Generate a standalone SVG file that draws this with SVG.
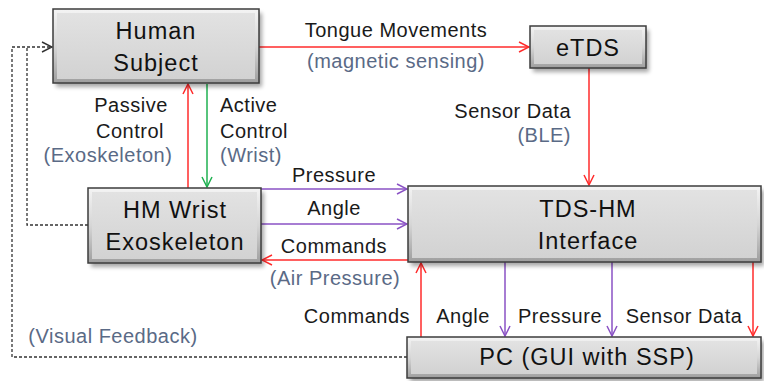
<svg xmlns="http://www.w3.org/2000/svg" width="764" height="381" viewBox="0 0 764 381">
<style>
  .box-shadow { fill: #000; opacity: 0.35; filter: url(#blur); }
  .box-outer { fill: url(#bevel); stroke: #3c3c3c; stroke-width: 1.5; }
  .box-inner { fill: url(#face); }
  .box-text { font-family: "Liberation Sans", Arial, sans-serif; font-size: 23.5px; letter-spacing: 1px; fill: #111; text-anchor: middle; }
  .lbl { font-family: "Liberation Sans", Arial, sans-serif; font-size: 20px; letter-spacing: 0.5px; fill: #1a1a1a; text-anchor: middle; }
  .start { text-anchor: start; }
  .end { text-anchor: end; }
  .sub { fill: #5a6a86; }
  .red { stroke: #ff2b2b; stroke-width: 1.5; fill: none; }
  .green { stroke: #1fb050; stroke-width: 1.5; fill: none; }
  .purple { stroke: #8a52c4; stroke-width: 1.5; fill: none; }
  .dash { stroke: #333; stroke-width: 1.3; stroke-dasharray: 3 2; fill: none; }
</style>
<defs>
  <linearGradient id="bevel" x1="0" y1="0" x2="0" y2="1">
    <stop offset="0" stop-color="#f4f4f4"/>
    <stop offset="0.5" stop-color="#d6d6d6"/>
    <stop offset="1" stop-color="#9e9e9e"/>
  </linearGradient>
  <linearGradient id="face" x1="0" y1="0" x2="0" y2="1">
    <stop offset="0" stop-color="#e2e2e2"/>
    <stop offset="1" stop-color="#d2d2d2"/>
  </linearGradient>
  <filter id="blur" x="-10%" y="-10%" width="120%" height="130%">
    <feGaussianBlur stdDeviation="2"/>
  </filter>
  <marker id="aR" viewBox="-11 -6 12 12" refX="0" refY="0" markerWidth="12" markerHeight="12" markerUnits="userSpaceOnUse" orient="auto">
    <path d="M-10,-5 L0,0 L-10,5" fill="none" stroke="#ff2b2b" stroke-width="1.5"/>
  </marker>
  <marker id="aG" viewBox="-11 -6 12 12" refX="0" refY="0" markerWidth="12" markerHeight="12" markerUnits="userSpaceOnUse" orient="auto">
    <path d="M-10,-5 L0,0 L-10,5" fill="none" stroke="#1fb050" stroke-width="1.5"/>
  </marker>
  <marker id="aP" viewBox="-11 -6 12 12" refX="0" refY="0" markerWidth="12" markerHeight="12" markerUnits="userSpaceOnUse" orient="auto">
    <path d="M-10,-5 L0,0 L-10,5" fill="none" stroke="#8a52c4" stroke-width="1.5"/>
  </marker>
  <marker id="aK" viewBox="-11 -6 12 12" refX="0" refY="0" markerWidth="12" markerHeight="12" markerUnits="userSpaceOnUse" orient="auto">
    <path d="M-10,-5 L0,0 L-10,5" fill="none" stroke="#333" stroke-width="1.4"/>
  </marker>
</defs>
<rect width="764" height="381" fill="#fff"/>

<g id="connectors">
  <path class="dash" d="M407,357 H12 V47 H52" marker-end="url(#aK)"/>
  <path class="dash" d="M88,225 H27 V47"/>
  <path class="red" d="M259,47 H529" marker-end="url(#aR)"/>
  <path class="red" d="M589,68 V185" marker-end="url(#aR)"/>
  <path class="red" d="M188,188 V84" marker-end="url(#aR)"/>
  <path class="green" d="M207,84 V187" marker-end="url(#aG)"/>
  <path class="purple" d="M261,189 H407" marker-end="url(#aP)"/>
  <path class="purple" d="M261,224 H407" marker-end="url(#aP)"/>
  <path class="red" d="M408,260 H262" marker-end="url(#aR)"/>
  <path class="red" d="M421,337 V263" marker-end="url(#aR)"/>
  <path class="purple" d="M505,262 V336" marker-end="url(#aP)"/>
  <path class="purple" d="M612,262 V336" marker-end="url(#aP)"/>
  <path class="red" d="M753,262 V336" marker-end="url(#aR)"/>
</g>

<g id="labels">
  <text class="lbl" x="396" y="37">Tongue Movements</text>
  <text class="lbl sub" x="396" y="68">(magnetic sensing)</text>
  <text class="lbl end" x="571" y="118">Sensor Data</text>
  <text class="lbl sub end" x="571" y="142">(BLE)</text>
  <text class="lbl" x="131" y="112">Passive</text>
  <text class="lbl" x="130" y="138">Control</text>
  <text class="lbl sub" x="108" y="162">(Exoskeleton)</text>
  <text class="lbl start" x="220" y="112">Active</text>
  <text class="lbl start" x="220" y="138">Control</text>
  <text class="lbl sub start" x="220" y="162">(Wrist)</text>
  <text class="lbl" x="334" y="182">Pressure</text>
  <text class="lbl" x="334" y="215">Angle</text>
  <text class="lbl" x="334" y="253">Commands</text>
  <text class="lbl sub" x="335" y="285">(Air Pressure)</text>
  <text class="lbl" x="357" y="323">Commands</text>
  <text class="lbl" x="463" y="323">Angle</text>
  <text class="lbl" x="560" y="323">Pressure</text>
  <text class="lbl" x="684" y="323">Sensor Data</text>
  <text class="lbl sub" x="113" y="343">(Visual Feedback)</text>
</g>

<g id="human-subject">
  <rect class="box-shadow" x="56" y="13" width="206" height="74"/>
  <rect class="box-outer" x="53" y="9" width="206" height="74"/>
  <rect class="box-inner" x="57" y="13" width="198" height="66"/>
  <text class="box-text" x="156" y="39">Human</text>
  <text class="box-text" x="156" y="71">Subject</text>
</g>

<g id="etds">
  <rect class="box-shadow" x="533" y="30" width="116" height="42"/>
  <rect class="box-outer" x="530" y="26" width="116" height="42"/>
  <rect class="box-inner" x="534" y="30" width="108" height="34"/>
  <text class="box-text" x="588" y="56">eTDS</text>
</g>

<g id="hm-wrist">
  <rect class="box-shadow" x="91" y="192" width="173" height="75"/>
  <rect class="box-outer" x="88" y="188" width="173" height="75"/>
  <rect class="box-inner" x="92" y="192" width="165" height="67"/>
  <text class="box-text" x="175" y="218">HM Wrist</text>
  <text class="box-text" x="175" y="250">Exoskeleton</text>
</g>

<g id="tds-hm">
  <rect class="box-shadow" x="411" y="190" width="353" height="76"/>
  <rect class="box-outer" x="408" y="186" width="353" height="76"/>
  <rect class="box-inner" x="412" y="190" width="345" height="68"/>
  <text class="box-text" x="588" y="217">TDS-HM</text>
  <text class="box-text" x="588" y="249">Interface</text>
</g>

<g id="pc">
  <rect class="box-shadow" x="410" y="341" width="354" height="41"/>
  <rect class="box-outer" x="407" y="337" width="354" height="41"/>
  <rect class="box-inner" x="411" y="341" width="346" height="33"/>
  <text class="box-text" x="587" y="365">PC (GUI with SSP)</text>
</g>
</svg>
